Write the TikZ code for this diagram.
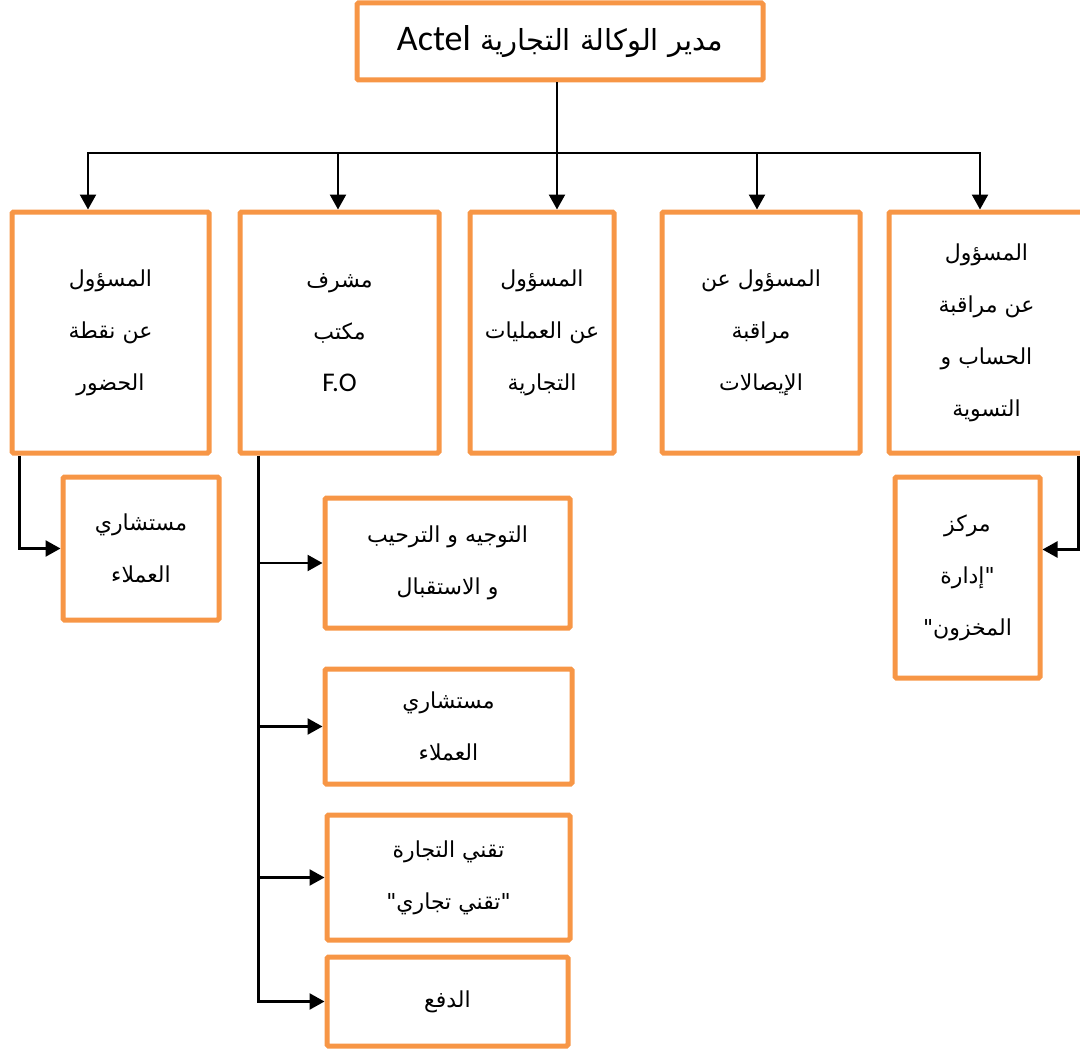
\documentclass[tikz,border=0pt]{standalone}
\usepackage{fontspec}
\setmainfont{Carlito}
\newfontfamily\arabicfont[Script=Arabic]{DejaVu Sans}
\newfontfamily\latinfont{Carlito}
\TeXXeTstate=1
\usetikzlibrary{arrows.meta}
\definecolor{boxorange}{HTML}{F79646}
\newcommand\arl[1]{{\arabicfont\beginR #1\endR}}
\begin{document}
\begin{tikzpicture}[x=1pt,y=-1pt,
  box/.style={draw=boxorange, line width=5pt, rounded corners=1.5pt, fill=white,
    align=center, inner sep=0pt, font=\fontsize{22}{52}\selectfont},
  ln/.style={draw=black, line width=2.4pt},
  arr/.style={ln, -{Triangle[length=15pt,width=16pt]}}]
\useasboundingbox (0,0) rectangle (1080,1049);
% top
\node[box, minimum width=406pt, minimum height=77pt, font=\fontsize{29}{34}\selectfont] (top) at (560,41.5)
  {{\arabicfont\beginR مدير الوكالة التجارية \beginL{\latinfont\fontsize{36}{34}\selectfont Actel}\endL\endR}};
% level 1
\node[box, minimum width=197pt, minimum height=241pt] (b1) at (110.5,332.5)
  {\arl{المسؤول}\\\arl{عن نقطة}\\\arl{الحضور}};
\node[box, minimum width=199pt, minimum height=241pt] (b2) at (339.5,332.5)
  {\arl{مشرف}\\\arl{مكتب}\\{\latinfont\fontsize{27}{52}\selectfont F.O}};
\node[box, minimum width=144pt, minimum height=241pt] (b3) at (542,332.5)
  {\arl{المسؤول}\\\arl{عن العمليات}\\\arl{التجارية}};
\node[box, minimum width=198pt, minimum height=241pt] (b4) at (761,332.5)
  {\arl{المسؤول عن}\\\arl{مراقبة}\\\arl{الإيصالات}};
\node[box, minimum width=195pt, minimum height=241pt] (b5) at (986.5,332.5)
  {\arl{المسؤول}\\\arl{عن مراقبة}\\\arl{الحساب و}\\\arl{التسوية}};
% sub boxes
\node[box, minimum width=156pt, minimum height=143pt] (c1) at (141,548.5)
  {\arl{مستشاري}\\\arl{العملاء}};
\node[box, minimum width=145pt, minimum height=201pt] (m) at (967.5,577.5)
  {\arl{مركز}\\\arl{"إدارة}\\\arl{المخزون"}};
\node[box, minimum width=245pt, minimum height=130pt] (s1) at (447.5,563)
  {\arl{التوجيه و الترحيب}\\\arl{و الاستقبال}};
\node[box, minimum width=247pt, minimum height=115pt] (s2) at (448.5,726.5)
  {\arl{مستشاري}\\\arl{العملاء}};
\node[box, minimum width=243pt, minimum height=125pt] (s3) at (448.5,877.5)
  {\arl{تقني التجارة}\\\arl{"تقني تجاري"}};
\node[box, minimum width=241pt, minimum height=89pt] (s4) at (447.5,1001.5)
  {\arl{الدفع}};
% bus
\coordinate (d1) at (88,153);
\coordinate (d2) at (338,153);
\coordinate (d3) at (557,153);
\coordinate (d4) at (757,153);
\coordinate (d5) at (980,153);
\draw[ln] (top.south -| d3) -- (d3);
\draw[ln, line cap=rect] (d1) -- (d5);
\draw[arr] (d1) -- (d1 |- b1.north);
\draw[arr] (d2) -- (d2 |- b2.north);
\draw[arr] (d3) -- (d3 |- b3.north);
\draw[arr] (d4) -- (d4 |- b4.north);
\draw[arr] (d5) -- (d5 |- b5.north);
% side connectors
\draw[arr] ([xshift=10pt]b1.south west) |- (c1.west);
\draw[arr] ([xshift=-8pt]b5.south east) |- ([yshift=28pt]m.east);
\coordinate (fo) at ([xshift=21pt]b2.south west);
\draw[arr] (fo) |- (s4.west);
\draw[arr] (fo |- s1.west) -- (s1.west);
\draw[arr] (fo |- s2.west) -- (s2.west);
\draw[arr] (fo |- s3.west) -- (s3.west);
\end{tikzpicture}
\end{document}
